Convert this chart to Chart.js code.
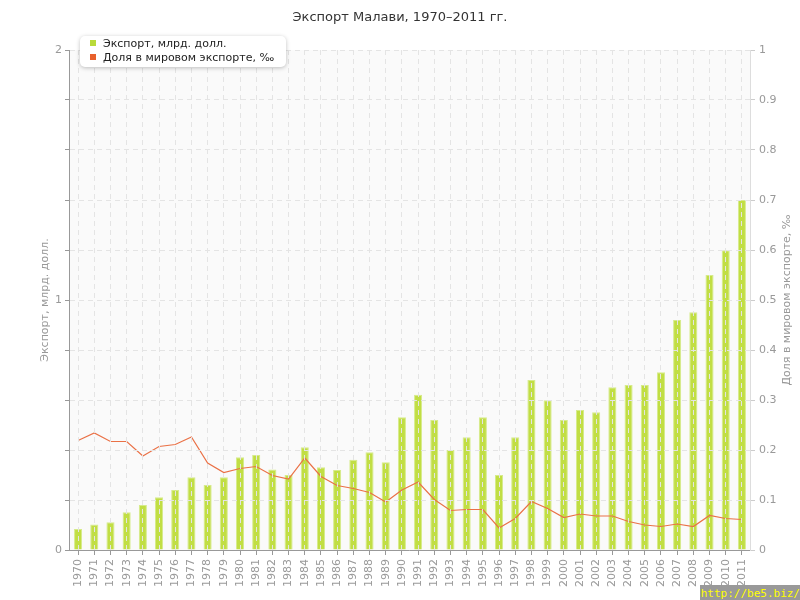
<!DOCTYPE html>
<html>
<head>
<meta charset="utf-8">
<script src="https://cdn.jsdelivr.net/npm/chart.js@4"></script>
<style>
  body { margin: 0; background: #fff; }
  #wrap { position: relative; width: 800px; height: 600px; }
  #legend {
    position: absolute; left: 80px; top: 36px; width: 206px; height: 31px;
    background: #fff; border-radius: 5px; box-shadow: 0 1px 4px rgba(0,0,0,0.25);
    font: 11px "DejaVu Sans", sans-serif; color: #222;
  }
  #legend div { position: absolute; left: 10px; white-space: nowrap; }
  #legend span { display: inline-block; width: 6px; height: 6px; margin-right: 7px; vertical-align: 1px; }
  #mark {
    position: absolute; right: 0; bottom: 0; width: 100px; height: 15px; overflow: hidden;
    background: #999; color: #ff0; font: 11px "DejaVu Sans Mono", monospace; line-height: 17px; text-align: right;
  }
</style>
</head>
<body>
<div id="wrap">
  <canvas id="chart" width="800" height="600"></canvas>
  <div id="legend">
    <div style="top:1px"><span style="background:#b9da3a"></span>Экспорт, млрд. долл.</div>
    <div style="top:15px"><span style="background:#e8602c"></span>Доля в мировом экспорте, ‰</div>
  </div>
  <div id="mark">http://be5.biz/</div>
</div>
<script>
//Data
const years = ['1970','1971','1972','1973','1974','1975','1976','1977','1978','1979',
  '1980','1981','1982','1983','1984','1985','1986','1987','1988','1989',
  '1990','1991','1992','1993','1994','1995','1996','1997','1998','1999',
  '2000','2001','2002','2003','2004','2005','2006','2007','2008','2009','2010','2011'];

// export, bn USD
const exportBn = [0.084, 0.102, 0.111, 0.151, 0.180, 0.211, 0.240, 0.291, 0.260, 0.291,
  0.371, 0.380, 0.322, 0.300, 0.411, 0.331, 0.320, 0.361, 0.391, 0.351,
  0.531, 0.621, 0.520, 0.400, 0.451, 0.531, 0.300, 0.451, 0.680, 0.599,
  0.520, 0.560, 0.551, 0.651, 0.660, 0.660, 0.711, 0.920, 0.951, 1.100, 1.199, 1.400];

// share of world export, permille
const sharePermille = [0.219, 0.234, 0.217, 0.217, 0.188, 0.207, 0.211, 0.226, 0.174, 0.155,
  0.163, 0.167, 0.149, 0.142, 0.184, 0.147, 0.129, 0.123, 0.115, 0.096,
  0.120, 0.136, 0.101, 0.079, 0.081, 0.081, 0.044, 0.063, 0.097, 0.083,
  0.065, 0.072, 0.068, 0.068, 0.057, 0.050, 0.047, 0.052, 0.047, 0.069, 0.063, 0.061];

const leftTitle = 'Экспорт, млрд. долл.';
const rightTitle = 'Доля в мировом экспорте, ‰';

const FONT = '"DejaVu Sans", sans-serif';

// plot background, solid axis lines, rotated axis titles
const decor = {
  id: 'decor',
  beforeDraw(chart) {
    const a = chart.chartArea, c = chart.ctx;
    c.save();
    c.fillStyle = '#fafafa';
    c.fillRect(a.left, a.top, a.right - a.left, a.bottom - a.top);
    c.restore();
  },
  afterDraw(chart) {
    const a = chart.chartArea, c = chart.ctx;
    c.save();
    c.strokeStyle = '#999';
    c.lineWidth = 1;
    c.beginPath();
    c.moveTo(Math.round(a.left) - 0.5, a.top);
    c.lineTo(Math.round(a.left) - 0.5, Math.round(a.bottom) + 0.5);
    c.lineTo(a.right, Math.round(a.bottom) + 0.5);
    c.stroke();
    c.restore();
    const mid = (a.top + a.bottom) / 2;
    [[45, leftTitle], [787, rightTitle]].forEach(([x, t]) => {
      c.save();
      c.font = '11px ' + FONT;
      c.fillStyle = '#999';
      c.textAlign = 'center';
      c.textBaseline = 'middle';
      c.translate(x, mid);
      c.rotate(-Math.PI / 2);
      c.fillText(t, 0, 0);
      c.restore();
    });
  }
};

const ctx = document.getElementById('chart').getContext('2d');
const exportChart = new Chart(ctx, {
  data: {
    labels: years,
    datasets: [{
      type: 'line',
      label: rightTitle,
      data: sharePermille,
      yAxisID: 'y2',
      borderColor: '#ea7146',
      borderWidth: 1.2,
      pointRadius: 0,
      tension: 0,
      order: 1
    }, {
      type: 'bar',
      label: leftTitle,
      data: exportBn,
      yAxisID: 'y',
      backgroundColor: '#c1de44',
      borderColor: '#d6eb8a',
      borderWidth: 1,
      barPercentage: 0.5,
      categoryPercentage: 1,
      order: 2
    }]
  },
  options: {
    responsive: false,
    animation: false,
    plugins: {
      legend: { display: false },
      tooltip: { enabled: false },
      title: {
        display: true,
        text: 'Экспорт Малави, 1970–2011 гг.',
        color: '#333',
        font: { family: FONT, size: 13, weight: 'normal' },
        padding: { top: 10, bottom: 24.4 }
      }
    },
    scales: {
      x: {
        offset: true,
        grid: { offset: false, color: '#e4e4e4', z: 1, tickLength: 5, tickColor: '#999', tickBorderDash: [] },
        border: { display: false, dash: [5, 4], z: 1 },
        ticks: { color: '#999', font: { family: FONT, size: 11 }, minRotation: 90, maxRotation: 90,
                 autoSkip: false, padding: 4 },
        afterFit(s) { s.height = 50; }
      },
      y: {
        position: 'left',
        min: 0, max: 2,
        grid: { color: '#e4e4e4', z: 1, tickLength: 5, tickColor: '#999', tickBorderDash: [] },
        border: { display: false, dash: [5, 4], z: 1 },
        ticks: { stepSize: 0.2, color: '#999', font: { family: FONT, size: 11 }, padding: 3,
                 callback: v => Math.abs(v - Math.round(v)) < 1e-6 ? String(Math.round(v)) : '' },
        afterFit(s) { s.width = 70; }
      },
      y2: {
        position: 'right',
        min: 0, max: 1,
        grid: { drawOnChartArea: false, tickLength: 5, tickColor: '#ccc' },
        border: { color: '#ddd' },
        ticks: { stepSize: 0.1, color: '#999', font: { family: FONT, size: 11 }, padding: 4,
                 callback: v => v === 0 ? '0' : (v === 1 ? '1' : v.toFixed(1)) },
        afterFit(s) { s.width = 50; }
      }
    }
  },
  plugins: [decor]
});
</script>
</body>
</html>
